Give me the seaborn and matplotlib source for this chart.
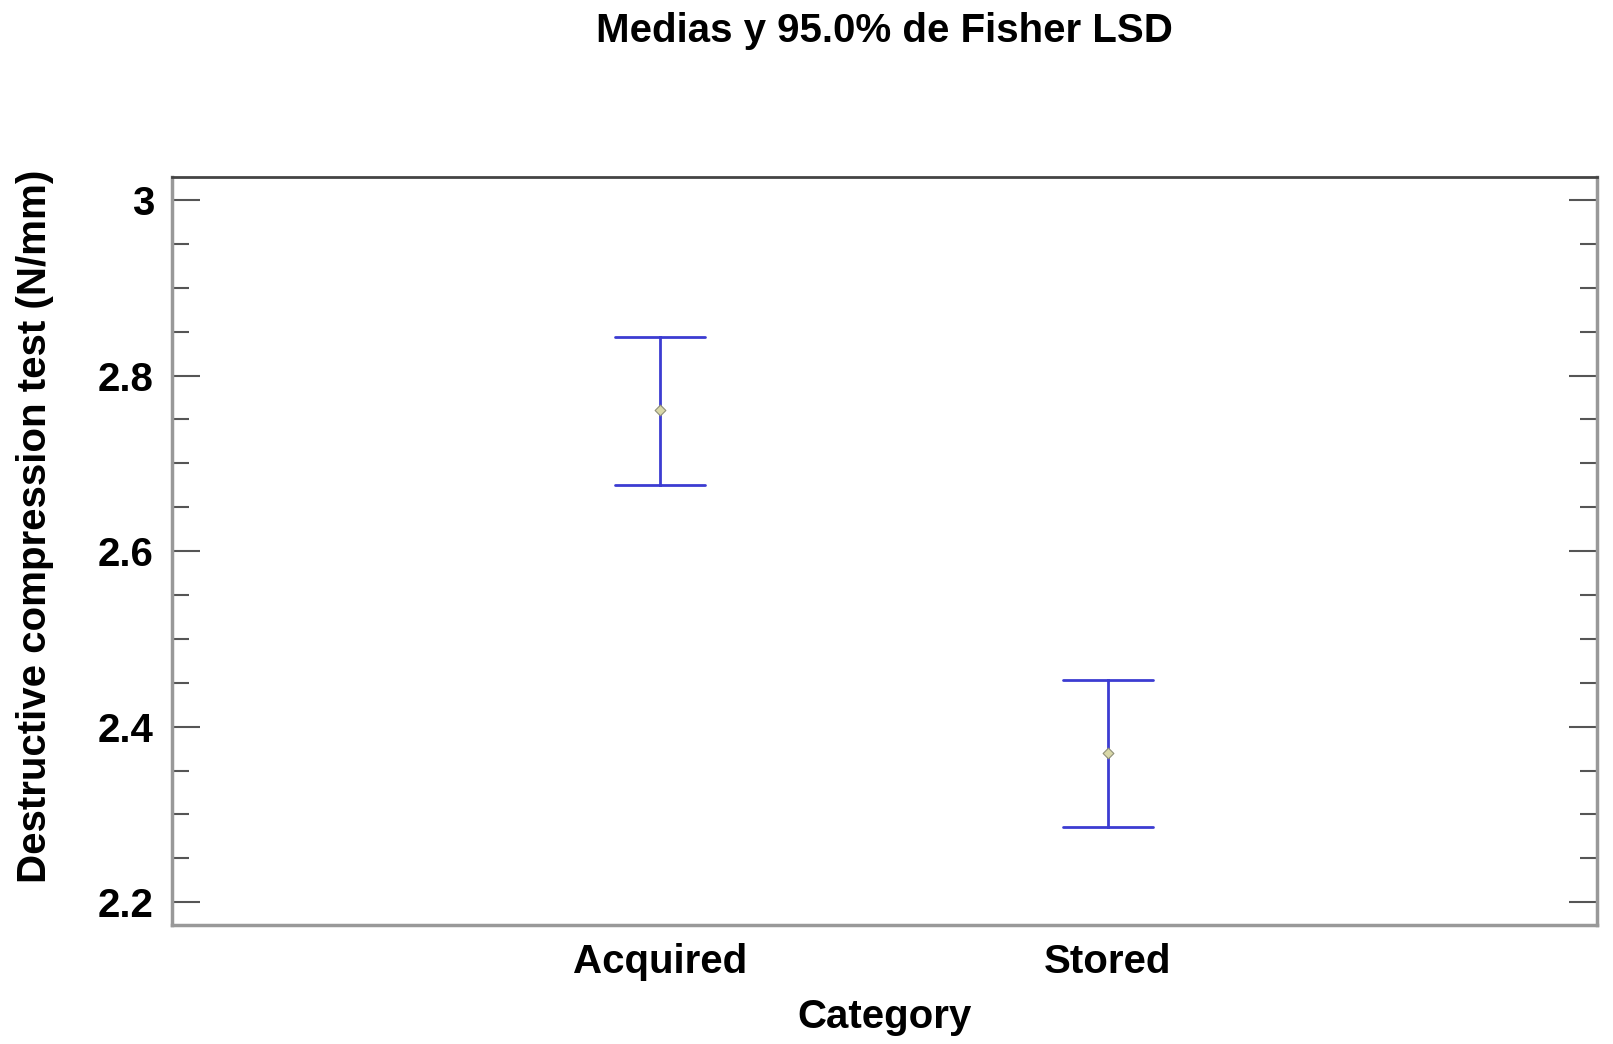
import matplotlib
matplotlib.use('Agg')
import matplotlib.pyplot as plt
from matplotlib.ticker import MultipleLocator
import pandas as pd
import seaborn as sns

# values (Fisher LSD 95% intervals)
categories = ['Acquired', 'Stored']
means = [2.761, 2.370]
lower = [2.675, 2.286]
upper = [2.844, 2.453]
y_ticks = [2.2, 2.4, 2.6, 2.8, 3.0]
y_tick_labels = ['2.2', '2.4', '2.6', '2.8', '3']

sns.set_style('white')
plt.rcParams['font.family'] = ['Liberation Sans', 'DejaVu Sans']
plt.rcParams['font.weight'] = 'bold'
FS = 29

# long table: median of (lower, mean, upper) is the mean, min/max are the interval ends
long = pd.DataFrame({
    'Category': categories * 3,
    'value': lower + means + upper,
})

W, H = 1613, 1044
fig = plt.figure(figsize=(W / 100, H / 100), dpi=100)
ax = fig.add_axes([172 / W, 1 - 925 / H, (1597 - 172) / W, (925 - 177) / H])

sns.pointplot(data=long, x='Category', y='value', order=categories,
              estimator='median', errorbar=('pi', 100), capsize=0.2,
              color='#3c3cd2', linestyle='none', marker='', err_kws={'linewidth': 2.0},
              ax=ax)
sns.scatterplot(x=categories, y=means, marker='D', s=30, color='#d9d8a8',
                edgecolor='#8f8f78', linewidth=0.8, zorder=5, ax=ax)

ax.set_xlim(-1.089, 2.092)
ax.set_ylim(2.1741, 3.0262)
ax.yaxis.set_major_locator(MultipleLocator(0.2))
ax.yaxis.set_minor_locator(MultipleLocator(0.05))
ax.set_yticks(y_ticks)
ax.set_yticklabels(y_tick_labels)
ax.tick_params(axis='y', which='major', direction='in', length=20, width=1.5,
               colors='#555555', labelcolor='black', labelsize=FS, pad=13,
               left=True, right=True)
ax.tick_params(axis='y', which='minor', direction='in', length=12, width=1.5,
               colors='#555555', left=True, right=True)
ax.tick_params(axis='x', which='both', length=0, labelsize=FS, labelcolor='black', pad=13)

for side in ['left', 'right', 'bottom']:
    ax.spines[side].set_color('#999999')
    ax.spines[side].set_linewidth(2.5)
ax.spines['top'].set_color('#444444')
ax.spines['top'].set_linewidth(2.0)

ax.set_xlabel('Category', fontsize=FS, fontweight='bold', color='black', labelpad=12)
ax.set_ylabel('Destructive compression test (N/mm)', fontsize=FS, fontweight='bold',
              color='black')
ax.yaxis.set_label_coords(-0.083, 0.533)
fig.text((172 + 1597) / 2 / W, 1 - 31 / H, 'Medias y 95.0% de Fisher LSD',
         fontsize=FS, fontweight='bold', color='black', ha='center', va='center')

fig.savefig('out.png', dpi=100)
